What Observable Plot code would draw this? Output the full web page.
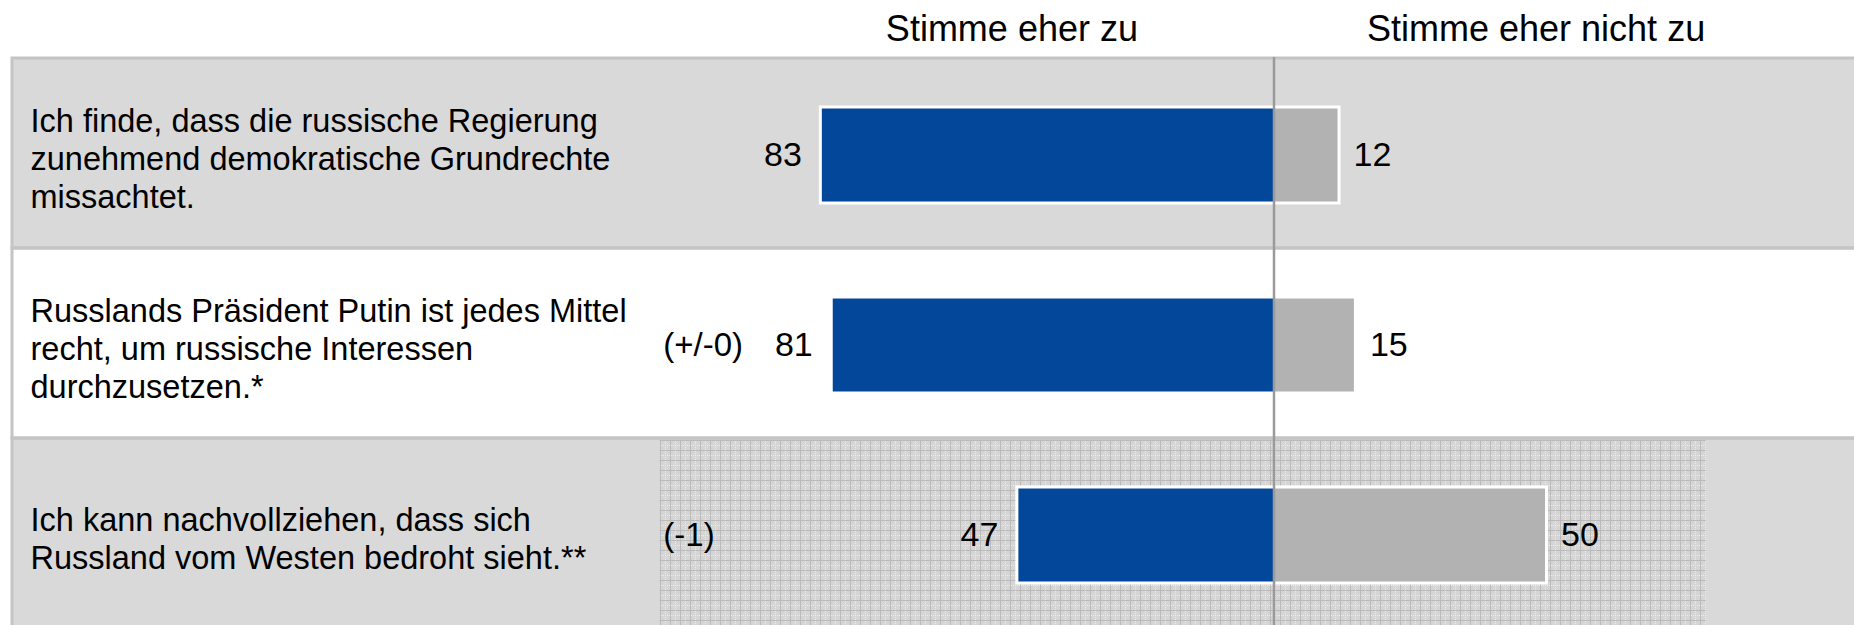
<!DOCTYPE html>
<html>
<head>
<meta charset="utf-8">
<script src="https://cdn.jsdelivr.net/npm/d3@7"></script>
<script src="https://cdn.jsdelivr.net/npm/@observablehq/plot@0.6"></script>
<style>
  html, body { margin: 0; padding: 0; background: #ffffff; }
  #chart svg { display: block; }
</style>
</head>
<body>
<div id="chart"></div>
<script>
// ---- data ----
const statements = [
  "Ich finde, dass die russische Regierung\nzunehmend demokratische Grundrechte\nmissachtet.",
  "Russlands Präsident Putin ist jedes Mittel\nrecht, um russische Interessen\ndurchzusetzen.*",
  "Ich kann nachvollziehen, dass sich\nRussland vom Westen bedroht sieht.**"
];
const agree = [83, 81, 47];
const disagree = [12, 15, 50];
const changes = ["", "(+/-0)", "(-1)"];
const headers = ["Stimme eher zu", "Stimme eher nicht zu"];

const rows = statements.map((s, i) => ({
  statement: s, agree: agree[i], disagree: disagree[i], change: changes[i]
}));

// ---- layout / style ----
const W = 1854, H = 625;
const zeroPx = 1273.5, pxPerUnit = 5.46;
const xDomain = [-zeroPx / pxPerUnit, (W - zeroPx) / pxPerUnit];
const blue = "#03479a", grayBar = "#b2b2b2", rowGray = "#d9d9d9", border = "#c4c4c4";
const barInsetTop = 49, barInsetBottom = 45;
const font = "'Liberation Sans', Arial, sans-serif";

const svg = Plot.plot({
  width: W,
  height: H,
  marginTop: 57,
  marginBottom: 0,
  marginLeft: 0,
  marginRight: 0,
  style: { fontFamily: font, background: "#ffffff", color: "#000" },
  x: { domain: xDomain, axis: null },
  y: { type: "band", domain: statements, range: [57, 628], padding: 0, axis: null },
  marks: [
    // row backgrounds
    Plot.cell(rows.filter((d, i) => i !== 1), { y: "statement", fill: rowGray, insetLeft: 12, insetRight: -4 }),
    Plot.cell(rows.filter((d, i) => i === 1), { y: "statement", fill: "#ffffff", insetLeft: 12, insetRight: -4 }),
    // grid-textured plot area in last row
    Plot.barX(rows.filter((d, i) => i === 2), { y: "statement", x1: -112.4, x2: 79.2, fill: "url(#gridpat)", insetTop: 1.5 }),
    // row borders
    Plot.cell(rows, { y: "statement", fill: "none", stroke: border, strokeWidth: 3, insetLeft: 12, insetRight: -4 }),
    // bars
    Plot.barX(rows, { y: "statement", x1: d => -d.agree, x2: 0, fill: blue, insetTop: barInsetTop, insetBottom: barInsetBottom }),
    Plot.barX(rows, { y: "statement", x1: 0, x2: "disagree", fill: grayBar, insetTop: barInsetTop, insetBottom: barInsetBottom }),
    Plot.barX(rows, { y: "statement", x1: d => -d.agree, x2: "disagree", fill: "none", stroke: "#ffffff", strokeWidth: 3, insetTop: barInsetTop, insetBottom: barInsetBottom }),
    // center line
    Plot.ruleX([0], { stroke: "#9a9a9a", strokeWidth: 2.5 }),
    // headers
    Plot.text(headers, { x: (d, i) => (i === 0 ? -48 : 48), text: d => d, frameAnchor: "top", lineAnchor: "bottom", dy: -17, fontSize: 36, fill: "#000" }),
    // row labels
    Plot.text(rows, { y: "statement", text: "statement", frameAnchor: "left", textAnchor: "start", dx: 30, dy: 4, fontSize: 32.5, lineHeight: 1.17, fill: "#000" }),
    // change labels
    Plot.text(rows, { y: "statement", x: -112.4, text: "change", textAnchor: "start", dx: 3, dy: 2, fontSize: 33, fill: "#000" }),
    // value labels
    Plot.text(rows, { y: "statement", x: d => -d.agree, text: d => String(d.agree), textAnchor: "end", dx: -19, dy: 2, fontSize: 34, fill: "#000" }),
    Plot.text(rows, { y: "statement", x: "disagree", text: d => String(d.disagree), textAnchor: "start", dx: 14, dy: 2, fontSize: 34, fill: "#000" })
  ]
});

// pattern definition for the textured area
const defs = d3.select(svg).insert("defs", ":first-child");
const pat = defs.append("pattern")
  .attr("id", "gridpat").attr("width", 10).attr("height", 10)
  .attr("patternUnits", "userSpaceOnUse");
pat.append("rect").attr("width", 10).attr("height", 10).attr("fill", "#d5d5d5");
pat.append("rect").attr("x", 0).attr("y", 0).attr("width", 10).attr("height", 1).attr("fill", "#bababa");
pat.append("rect").attr("x", 0).attr("y", 0).attr("width", 1).attr("height", 10).attr("fill", "#bababa");
for (let k = 1; k < 10; k += 2) {
  pat.append("rect").attr("x", k).attr("y", 5).attr("width", 1).attr("height", 1).attr("fill", "#ececec");
  pat.append("rect").attr("x", 5).attr("y", k).attr("width", 1).attr("height", 1).attr("fill", "#ececec");
}

document.getElementById("chart").appendChild(svg);
</script>
</body>
</html>
